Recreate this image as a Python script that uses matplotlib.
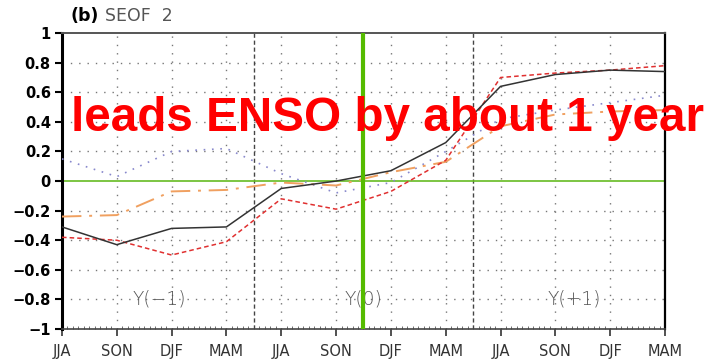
import matplotlib.pyplot as plt
from matplotlib.ticker import MultipleLocator

seasons = ['JJA', 'SON', 'DJF', 'MAM'] * 3
years = ['Y(\u22121)', 'Y(0)', 'Y(+1)']
year_pos = [1.78, 5.5, 9.35]

# SEOF2 lead-lag correlations, JJA(-1) .. MAM(+1)
pc2 = [-0.31, -0.43, -0.32, -0.31, -0.05, 0.00, 0.07, 0.26, 0.64, 0.72, 0.75, 0.74]
red = [-0.38, -0.40, -0.50, -0.41, -0.12, -0.19, -0.07, 0.14, 0.70, 0.73, 0.75, 0.78]
orange = [-0.24, -0.23, -0.07, -0.06, -0.01, -0.03, 0.06, 0.13, 0.37, 0.45, 0.47, 0.48]
blue = [0.15, 0.03, 0.20, 0.22, 0.05, -0.08, -0.01, 0.20, 0.42, 0.48, 0.53, 0.58]

x = list(range(len(seasons)))

fig = plt.figure(figsize=(7.24, 3.6), dpi=100)
ax = fig.add_axes([0.0856, 0.0861, 0.8329, 0.8219])

# dotted grid
for xi in x:
    ax.axvline(xi, color='#777777', lw=1.0, ls=(0, (1, 5)), zorder=1)
for yi in [-0.8, -0.6, -0.4, -0.2, 0.2, 0.4, 0.6, 0.8]:
    ax.axhline(yi, color='#777777', lw=1.0, ls=(0, (1, 5)), zorder=1)

# year separators
for xv in [3.5, 7.5]:
    ax.axvline(xv, color='#444444', lw=1.0, ls=(0, (3, 2)), zorder=2)

ax.axhline(0, color='#66bb22', lw=1.2, zorder=2)
ax.axvline(5.5, color='#55bb00', lw=3.0, zorder=5)

ax.plot(x, blue, color='#8888cc', lw=1.2, ls=(0, (1, 4)), zorder=3)
ax.plot(x, orange, color='#f0a060', lw=1.4, ls=(0, (10, 4, 1.5, 4)), zorder=3)
ax.plot(x, red, color='#e03030', lw=1.1, ls=(0, (3, 2)), zorder=4)
ax.plot(x, pc2, color='#333333', lw=1.1, zorder=4)

ax.set_xlim(0, 11)
ax.set_ylim(-1, 1)
ax.set_xticks(x)
ax.set_xticklabels(seasons, color='#333333', fontsize=10.5)
ax.xaxis.set_minor_locator(MultipleLocator(0.1))
ax.set_yticks([i / 5 - 1 for i in range(11)])
ax.set_yticklabels(['\u22121', '\u22120.8', '\u22120.6', '\u22120.4', '\u22120.2', '0',
                    '0.2', '0.4', '0.6', '0.8', '1'], fontweight='bold', fontsize=10.5)
ax.tick_params(axis='x', which='major', direction='out', length=5, width=1.2, pad=6,
               colors='#333333')
ax.tick_params(axis='x', which='minor', direction='in', length=2, width=0.6,
               colors='#555555', top=False)
ax.tick_params(axis='y', which='major', direction='out', length=5, width=1.5, pad=3)

ax.spines['left'].set_linewidth(2.2)
ax.spines['right'].set_linewidth(1.6)
ax.spines['bottom'].set_linewidth(1.2)
ax.spines['bottom'].set_color('#444444')
ax.spines['top'].set_linewidth(1.4)
ax.spines['top'].set_color('#555555')

for lab, xp in zip(years, year_pos):
    ax.text(xp, -0.8, lab, ha='center', va='center', color='#555555', fontsize=13.5,
            fontweight='light')

fig.text(0.098, 0.955, '(b)', fontweight='bold', fontsize=12.5, va='center')
fig.text(0.145, 0.955, 'SEOF  2', color='#555555', fontsize=12.5, va='center')

ax.text(0.539, 0.71, 'leads ENSO by about 1 year', transform=ax.transAxes,
        ha='center', va='center', color='#ff0000', fontsize=34.3, fontweight='bold',
        family='Liberation Sans', zorder=10)

fig.savefig('out.png', dpi=100)
